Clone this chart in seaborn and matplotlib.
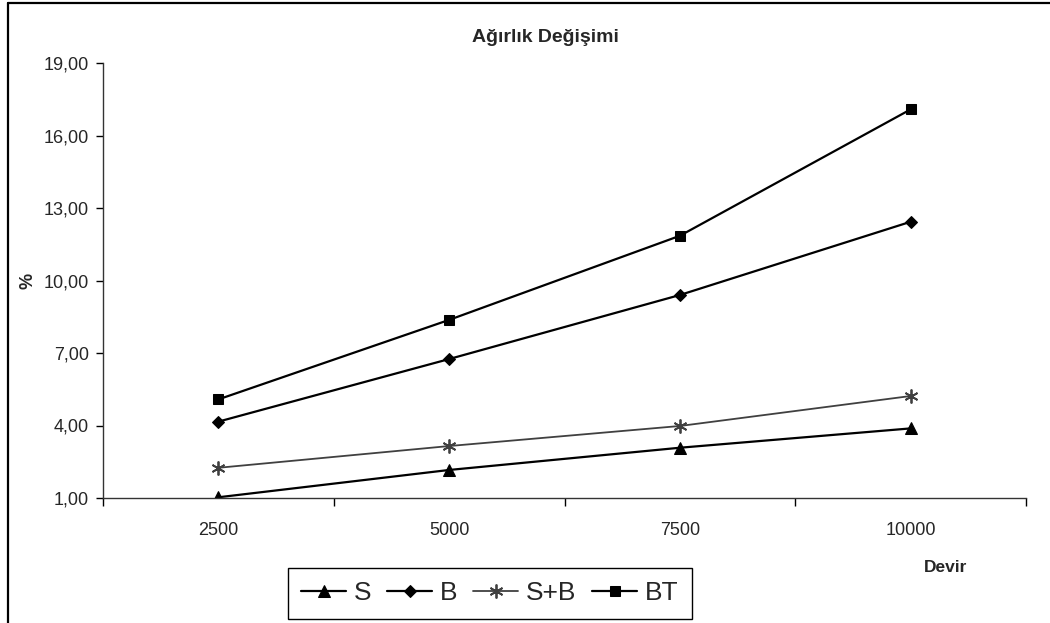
import matplotlib
matplotlib.use("Agg")
import matplotlib.pyplot as plt
from matplotlib.lines import Line2D
from matplotlib.ticker import FixedLocator, FuncFormatter
import pandas as pd
import seaborn as sns

# Weight change (%) per number of revolutions
devir = ["2500", "5000", "7500", "10000"]
s_vals = [1.03, 2.16, 3.08, 3.88]
b_vals = [4.16, 6.75, 9.40, 12.43]
sb_vals = [2.25, 3.15, 3.98, 5.22]
bt_vals = [5.08, 8.37, 11.85, 17.08]
series_names = ["S", "B", "S+B", "BT"]
y_ticks = [1, 4, 7, 10, 13, 16, 19]

rows = []
for name, vals in zip(series_names, [s_vals, b_vals, sb_vals, bt_vals]):
    for i, v in enumerate(vals):
        rows.append({"pos": i, "Devir": devir[i], "Seri": name, "Deger": v})
df = pd.DataFrame(rows)

sns.set_theme(style="white")
plt.rcParams["font.family"] = ["Liberation Sans", "DejaVu Sans"]

fig = plt.figure(figsize=(10.5, 6.23), dpi=100)
ax = fig.add_axes([103 / 1050, 1 - 498 / 623, (1026 - 103) / 1050, (498 - 63) / 623])

styles = {
    "S": dict(color="black", marker="^", markersize=8.5, linewidth=1.6),
    "B": dict(color="black", marker="D", markersize=6.5, linewidth=1.6),
    "S+B": dict(color="#404040", marker=(6, 2, 0), markersize=10, linewidth=1.3,
                markeredgewidth=1.3),
    "BT": dict(color="black", marker="s", markersize=7.5, linewidth=1.6),
}

for name in series_names:
    sub = df[df["Seri"] == name]
    sns.lineplot(data=sub, x="pos", y="Deger", label=name, ax=ax,
                 markeredgecolor=styles[name]["color"], **styles[name])

ax.set_xlim(-0.5, len(devir) - 0.5)
ax.set_ylim(y_ticks[0], y_ticks[-1])

# y axis
ax.yaxis.set_major_locator(FixedLocator(y_ticks))
ax.yaxis.set_major_formatter(FuncFormatter(lambda v, p: f"{v:.2f}".replace(".", ",")))
ax.tick_params(axis="y", which="major", direction="out", length=5, width=1,
               color="black", labelsize=13, pad=5, left=True)

# x axis: boundary ticks, labels centred on categories
ax.set_xticks([i - 0.5 for i in range(len(devir) + 1)])
ax.set_xticklabels([])
ax.set_xticks(list(range(len(devir))), minor=True)
ax.set_xticklabels(devir, minor=True)
ax.tick_params(axis="x", which="major", direction="out", length=6, width=1,
               color="black", bottom=True)
ax.tick_params(axis="x", which="minor", length=0, labelsize=13, pad=17, bottom=True)

for side in ["top", "right"]:
    ax.spines[side].set_visible(False)
for side in ["left", "bottom"]:
    ax.spines[side].set_color("#333333")
    ax.spines[side].set_linewidth(1.0)

ax.set_xlabel("")
ax.set_ylabel("")
ax.grid(False)

# titles and axis names
fig.text(545 / 1050, 1 - 38 / 623, "Ağırlık Değişimi", ha="center", va="center",
         fontsize=14, fontweight="bold")
fig.text(28 / 1050, 1 - 281 / 623, "%", ha="center", va="center",
         rotation=90, fontsize=13, fontweight="bold")
fig.text(946 / 1050, 1 - 567 / 623, "Devir", ha="center", va="center",
         fontsize=12.5, fontweight="bold")

# legend along the bottom
handles, labels = ax.get_legend_handles_labels()
if ax.get_legend() is not None:
    ax.get_legend().remove()
leg = fig.legend(handles, labels, loc="center", ncol=4,
                 bbox_to_anchor=(490 / 1050, 1 - 593.5 / 623),
                 frameon=True, fancybox=False, edgecolor="black",
                 fontsize=19, handlelength=1.7, handletextpad=0.3,
                 columnspacing=0.6, borderpad=0.5, framealpha=1)
leg.get_frame().set_linewidth(1.0)

# chart area border
fig.add_artist(Line2D([8 / 1050, 8 / 1050], [0, 1 - 3 / 623], transform=fig.transFigure,
                      color="black", linewidth=1.6))
fig.add_artist(Line2D([8 / 1050, 1], [1 - 3 / 623, 1 - 3 / 623], transform=fig.transFigure,
                      color="black", linewidth=1.6))

fig.savefig("out.png", dpi=100)
